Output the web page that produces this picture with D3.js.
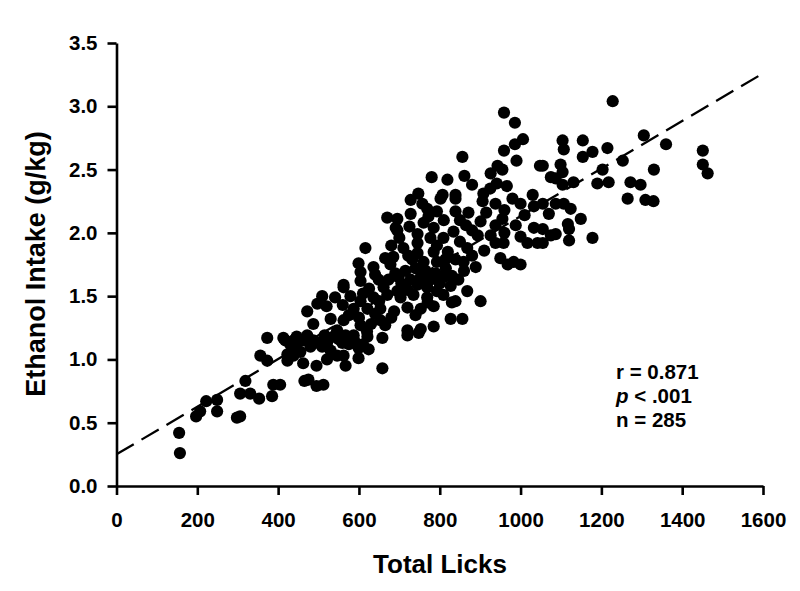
<!DOCTYPE html>
<html>
    <head>
        <title>Ethanol intake vs total licks</title>
        <meta charset="utf-8">
        <style>
            body{
                margin: 0;
                background: #fff;
            }
            svg#viz text{
                font-family: "Liberation Sans", Arial, Helvetica, sans-serif;
                font-weight: bold;
                fill: #000;
            }
            .axis path, .axis line{
                stroke: #000;
                stroke-width: 2.6;
            }
        </style>
    </head>
    <body>
    <svg id="viz" width="800" height="591"></svg>

    <script src="https://cdn.jsdelivr.net/npm/d3@7"></script>
    <script>
        // DATA

        var licks = [
            157, 155, 197, 207, 222, 249, 249, 298, 306, 306, 319, 331, 353, 385, 388, 405, 356, 373, 373,
            465, 475, 495, 512, 495, 423, 462, 423, 438, 521, 546, 418, 438, 462, 487, 509, 521, 537, 442,
            567, 587, 621, 658, 720, 748, 559, 599, 624, 562, 599, 567, 658,
            562, 541, 509, 497, 472, 487, 530, 546, 413, 446, 472,
            728, 757, 802, 839, 906, 938, 1000, 1033,
            728, 769, 793, 839, 871, 670, 695, 772,
            691, 695, 785, 745, 865, 901, 955, 988, 1033, 938, 834, 809,
            894, 926, 938, 958, 745, 777, 793, 868, 1017, 1042, 710, 616,
            685, 722, 732, 760, 793, 814, 839, 859, 889, 950, 968, 983, 1000, 599, 636, 678, 604,
            562, 604, 649, 673, 698, 728, 753, 777, 809, 846, 661, 695, 720, 745, 769, 793, 827, 868, 901,
            579, 604, 636, 670, 703, 735, 769, 809, 839, 587, 621, 653, 687, 720, 753, 785, 827, 856,
            562, 604, 653, 720, 753, 785,
            1055, 1087, 1107, 1124, 1149, 1117, 1120, 1055, 1075, 1087, 1120, 1055, 1178, 1265, 1309, 1329,
            959, 986, 1006, 986, 959, 990, 856, 861, 819, 780, 943, 955, 926, 941, 966, 747, 807, 839, 908, 1048,
            1228, 1104, 1154, 1107, 1178, 1215, 1154, 1305, 1360, 1253, 1451, 1451, 1463,
            1055, 1099, 1075, 1104, 1203, 1330, 1104, 1131, 1190, 1218, 1272, 1297, 1087,
            430, 455, 480, 500, 515, 530, 550, 575, 590, 610,
            575, 600, 630, 640, 665, 680, 560, 610, 625, 650,
            690, 715, 740, 765, 790, 815, 705, 760, 800, 830,
            700, 725, 760, 810, 850, 880, 850, 820, 880, 910,
            915, 960, 980, 1010, 1030, 960, 1000, 925, 880, 1070,
            740, 770, 830, 520, 640, 665, 680, 745, 785, 860, 620
        ];

        var intake = [
            0.26, 0.42, 0.55, 0.59, 0.67, 0.68, 0.59, 0.54, 0.55, 0.73, 0.83, 0.73, 0.69, 0.71, 0.80, 0.80, 1.03, 0.99, 1.17,
            0.83, 0.84, 0.79, 0.80, 0.95, 0.99, 0.97, 1.04, 1.03, 1.00, 1.03, 1.15, 1.15, 1.15, 1.15, 1.10, 1.13, 1.18, 1.09,
            1.19, 1.19, 1.18, 1.17, 1.19, 1.21, 1.13, 1.09, 1.08, 1.03, 1.01, 0.95, 0.93,
            1.57, 1.49, 1.50, 1.44, 1.38, 1.28, 1.32, 1.23, 1.17, 1.18, 1.19,
            2.26, 2.23, 2.27, 2.27, 2.25, 2.23, 2.23, 2.21,
            2.15, 2.19, 2.17, 2.17, 2.16, 2.12, 2.11, 2.13,
            2.04, 2.02, 2.04, 1.99, 2.06, 2.09, 2.11, 2.06, 2.04, 2.06, 2.01, 1.96,
            1.98, 1.98, 1.92, 1.92, 1.92, 1.96, 1.90, 1.88, 1.92, 1.92, 1.88, 1.88,
            1.81, 1.82, 1.79, 1.77, 1.77, 1.79, 1.79, 1.77, 1.73, 1.80, 1.75, 1.77, 1.75, 1.76, 1.73, 1.75, 1.69,
            1.59, 1.62, 1.63, 1.63, 1.65, 1.63, 1.65, 1.63, 1.65, 1.63, 1.57, 1.54, 1.55, 1.59, 1.57, 1.54, 1.58, 1.54, 1.46,
            1.50, 1.46, 1.49, 1.51, 1.49, 1.51, 1.49, 1.51, 1.46, 1.40, 1.40, 1.40, 1.38, 1.41, 1.40, 1.42, 1.32, 1.32,
            1.31, 1.27, 1.31, 1.23, 1.24, 1.26,
            2.23, 2.23, 2.23, 2.19, 2.11, 2.07, 2.03, 2.03, 1.98, 1.99, 1.94, 1.92, 1.96, 2.27, 2.26, 2.25,
            2.95, 2.87, 2.74, 2.70, 2.65, 2.57, 2.60, 2.45, 2.42, 2.44, 2.53, 2.50, 2.47, 2.39, 2.37, 2.31, 2.30, 2.30, 2.31, 2.53,
            3.04, 2.73, 2.73, 2.66, 2.64, 2.67, 2.60, 2.77, 2.70, 2.57, 2.65, 2.54, 2.47,
            2.53, 2.54, 2.44, 2.48, 2.50, 2.50, 2.38, 2.40, 2.39, 2.40, 2.40, 2.38, 2.43,
            1.12, 1.06, 1.10, 1.13, 1.19, 1.07, 1.16, 1.12, 1.14, 1.12,
            1.35, 1.33, 1.28, 1.36, 1.27, 1.33, 1.43, 1.52, 1.56, 1.46,
            1.68, 1.70, 1.72, 1.70, 1.68, 1.72, 1.60, 1.61, 1.60, 1.66,
            1.96, 2.05, 2.08, 2.10, 2.10, 2.02, 1.93, 1.85, 1.82, 1.86,
            2.16, 2.18, 2.27, 2.14, 2.30, 2.00, 1.97, 2.35, 2.38, 2.15,
            1.35, 1.45, 1.45, 1.42, 1.67, 1.80, 1.90, 1.84, 1.85, 1.70, 1.22
        ];

        // regression line end points
        var fitX = [0, 1600];
        var fitY = [0.25, 3.26];

        var xTicks = [0, 200, 400, 600, 800, 1000, 1200, 1400, 1600];
        var yTicks = [0.0, 0.5, 1.0, 1.5, 2.0, 2.5, 3.0, 3.5];

        var statLines = [
            {label: "r", op: " = ", value: "0.871", italic: false},
            {label: "p", op: " < ", value: ".001", italic: true},
            {label: "n", op: " = ", value: "285", italic: false}
        ];

        // SETUP

        var svg = d3.select("#viz");

        var x = d3.scaleLinear().domain([0, 1600]).range([116.5, 763]);
        var y = d3.scaleLinear().domain([0, 3.5]).range([486, 43]);

        var points = licks.map(function (d, i) { return {x: d, y: intake[i]}; });

        // AXES

        svg.append("g")
            .attr("class", "axis axis--x")
            .attr("transform", "translate(0,486)")
            .call(d3.axisBottom(x).tickValues(xTicks).tickFormat(d3.format("d"))
                .tickSize(9).tickSizeOuter(0).tickPadding(17));

        svg.append("g")
            .attr("class", "axis axis--y")
            .attr("transform", "translate(116.5,0)")
            .call(d3.axisLeft(y).tickValues(yTicks).tickFormat(d3.format(".1f"))
                .tickSize(9).tickSizeOuter(0).tickPadding(10));

        svg.selectAll(".axis text").attr("font-size", 20.5);

        svg.append("text")
            .attr("x", 440)
            .attr("y", 573)
            .attr("text-anchor", "middle")
            .attr("font-size", 26)
            .text("Total Licks");

        svg.append("text")
            .attr("transform", "translate(45,264) rotate(-90)")
            .attr("text-anchor", "middle")
            .attr("font-size", 27)
            .text("Ethanol Intake (g/kg)");

        // REGRESSION LINE

        svg.append("line")
            .attr("x1", x(fitX[0]))
            .attr("y1", y(fitY[0]))
            .attr("x2", x(fitX[1]))
            .attr("y2", y(fitY[1]))
            .attr("stroke", "#000")
            .attr("stroke-width", 2.3)
            .attr("stroke-dasharray", "20,9");

        // POINTS

        svg.append("g")
            .selectAll("circle")
            .data(points)
            .enter().append("circle")
            .attr("cx", function (d) { return x(d.x); })
            .attr("cy", function (d) { return y(d.y); })
            .attr("r", 6.1)
            .attr("fill", "#000");

        // STATS

        var stat = svg.append("g")
            .selectAll("text")
            .data(statLines)
            .enter().append("text")
            .attr("x", 616)
            .attr("y", function (d, i) { return 379 + i * 24; })
            .attr("font-size", 20.5);

        stat.append("tspan")
            .attr("font-style", function (d) { return d.italic ? "italic" : "normal"; })
            .text(function (d) { return d.label; });

        stat.append("tspan")
            .text(function (d) { return d.op + d.value; });
    </script>
    </body>
</html>
